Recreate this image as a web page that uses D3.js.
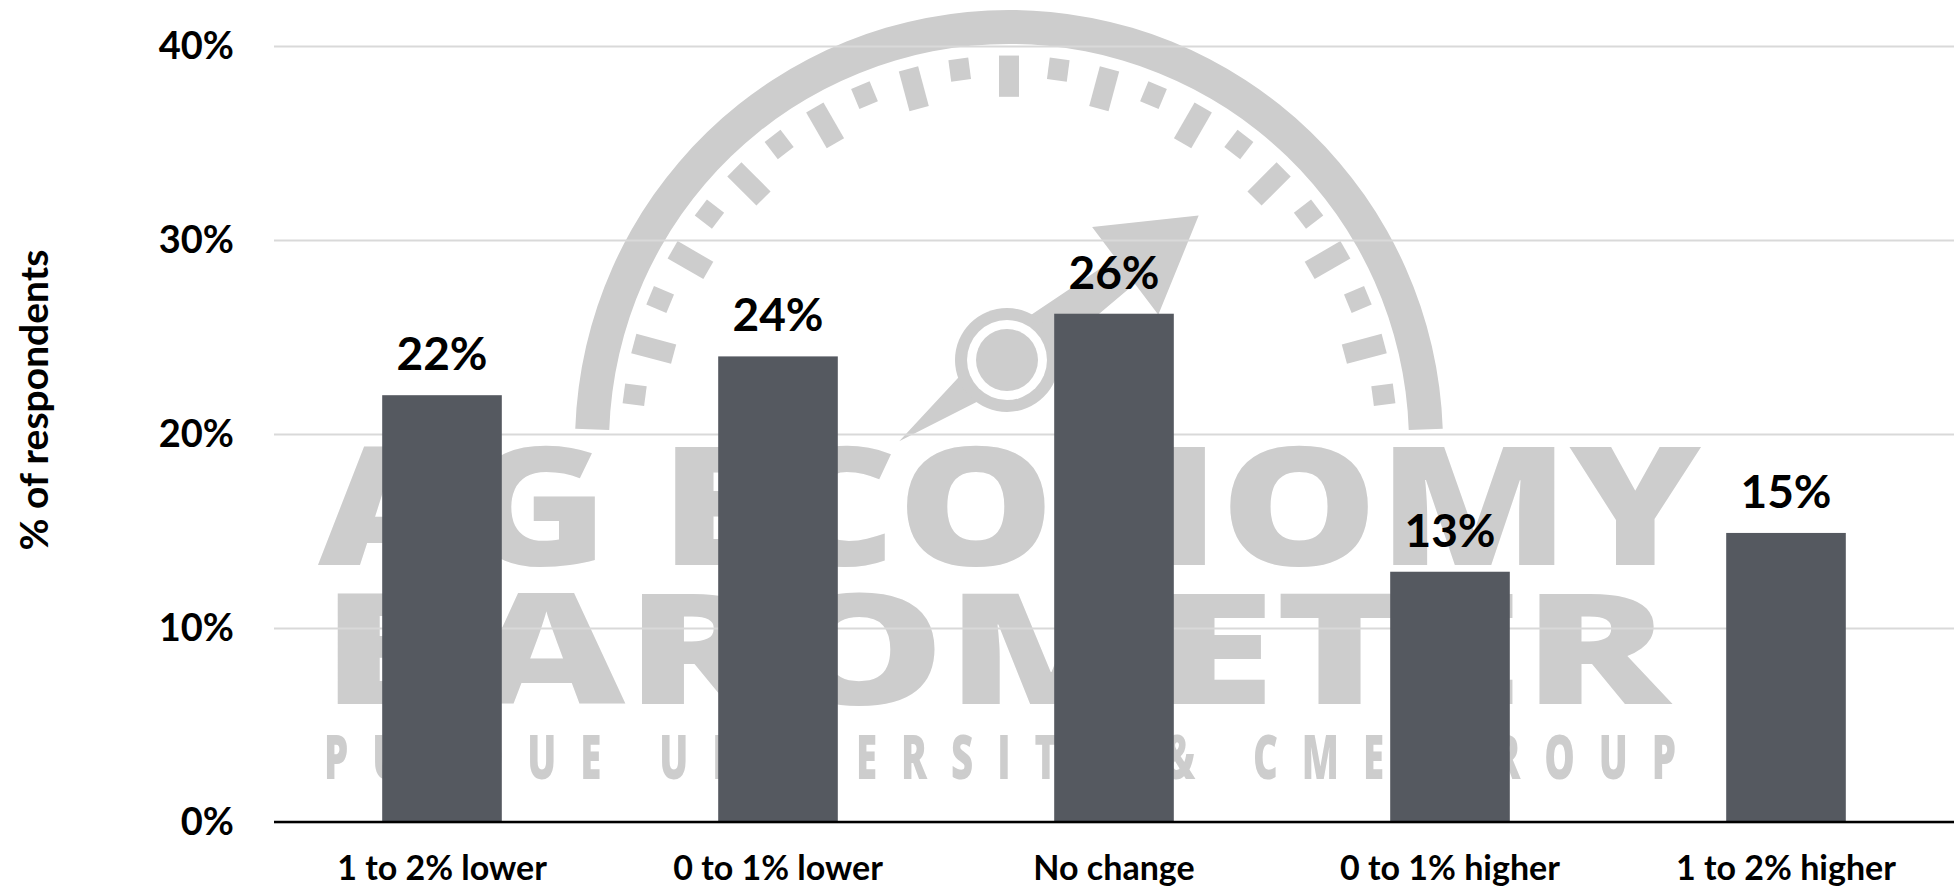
<!DOCTYPE html>
<html>
<head>
<meta charset="utf-8">
<script src="https://cdn.jsdelivr.net/npm/d3@7"></script>
<style>
  html, body { margin: 0; padding: 0; background: #ffffff; }
  svg { display: block; }
</style>
</head>
<body>
<svg id="chart" width="1954" height="889"></svg>
<script>
// ---- data ----
const categories = ["1 to 2% lower", "0 to 1% lower", "No change", "0 to 1% higher", "1 to 2% higher"];
const values = [22.0, 24.0, 26.2, 12.9, 14.9];
const yTicks = [0, 10, 20, 30, 40];
const yTickLabels = ["0%", "10%", "20%", "30%", "40%"];
const yAxisTitle = "% of respondents";
const watermarkLines = ["AG ECONOMY", "BAROMETER", "PURDUE UNIVERSITY & CME GROUP"];

// ---- layout ----
const W = 1954, H = 889;
const margin = { left: 274, right: 0, top: 46, bottom: 67 };
const plotW = W - margin.left - margin.right;
const plotH = H - margin.top - margin.bottom;
const FONT = "Lato, 'Open Sans', sans-serif";
const barColor = "#555960";
const wmColor = "#cdcdcd";

const svg = d3.select("#chart");

const x = d3.scaleBand().domain(categories).range([0, plotW])
  .paddingInner(0.644).paddingOuter(0.322);
const y = d3.scaleLinear().domain([0, 40]).range([plotH, 0]);

// ---- watermark (behind everything) ----
const wm = svg.append("g").attr("fill", wmColor);
const gc = { x: 1009, y: 444, r: 434 };
const deg = Math.PI / 180;
wm.append("path")
  .attr("transform", `translate(${gc.x},${gc.y})`)
  .attr("d", d3.arc().innerRadius(gc.r - 34).outerRadius(gc.r)
    .startAngle(-88 * deg).endAngle(88 * deg)());
const tickG = wm.append("g").attr("transform", `translate(${gc.x},${gc.y})`);
d3.range(-11, 12).forEach(i => {
  const long = i % 2 === 0;
  const outer = gc.r * 0.895, inner = long ? gc.r * 0.80 : gc.r * 0.845;
  tickG.append("rect")
    .attr("transform", `rotate(${i * 7.5})`)
    .attr("x", -10).attr("width", 20)
    .attr("y", -outer).attr("height", outer - inner);
});
// needle
const hub = { x: 1007, y: 360 };
wm.append("path")
  .attr("transform", `translate(${hub.x},${hub.y}) rotate(-37)`)
  .attr("d", d3.line()([[-135, 0], [0, -24], [148, -16], [148, -55], [240, 0], [148, 55], [148, 16], [0, 24]]) + "Z");
wm.append("circle").attr("cx", hub.x).attr("cy", hub.y).attr("r", 52);
wm.append("circle").attr("cx", hub.x).attr("cy", hub.y).attr("r", 40).attr("fill", "#ffffff");
wm.append("circle").attr("cx", hub.x).attr("cy", hub.y).attr("r", 31);

const wmText = [
  { t: watermarkLines[0], x: 318, base: 565, len: 1383, size: 165, sx: 1 },
  { t: watermarkLines[1], x: 321, base: 704, len: 1349, size: 155, sx: 1 },
  { t: watermarkLines[2], x: 324, base: 779, len: 1352, size: 62, sx: 0.62 }
];
wm.selectAll("text.wm").data(wmText).join("text")
  .attr("class", "wm")
  .attr("transform", d => `translate(${d.x},${d.base}) scale(${d.sx},1)`)
  .attr("x", 0).attr("y", 0)
  .attr("textLength", d => d.len / d.sx)
  .attr("lengthAdjust", d => d.sx === 1 ? "spacingAndGlyphs" : "spacing")
  .attr("font-family", "'Open Sans', 'DejaVu Sans', sans-serif")
  .attr("font-weight", 800)
  .attr("font-size", d => d.size)
  .text(d => d.t);

// ---- plot ----
const g = svg.append("g").attr("transform", `translate(${margin.left},${margin.top})`);

// gridlines + y tick labels
const yAxis = d3.axisLeft(y).tickValues(yTicks)
  .tickFormat((d, i) => yTickLabels[i])
  .tickSize(-plotW).tickPadding(40);
const ya = g.append("g").call(yAxis);
ya.select(".domain").remove();
ya.selectAll(".tick line").attr("stroke", "#d9d9d9").attr("stroke-width", 2);
ya.selectAll(".tick text")
  .attr("font-family", FONT).attr("font-weight", 700)
  .attr("font-size", 38).attr("fill", "#000");

// bars
g.selectAll("rect.bar").data(values).join("rect")
  .attr("class", "bar")
  .attr("x", (d, i) => x(categories[i]))
  .attr("width", x.bandwidth())
  .attr("y", d => y(d))
  .attr("height", d => y(0) - y(d))
  .attr("fill", barColor);

// baseline axis
g.append("line")
  .attr("x1", 0).attr("x2", plotW)
  .attr("y1", y(0)).attr("y2", y(0))
  .attr("stroke", "#000").attr("stroke-width", 2.5);

// data labels
g.selectAll("text.val").data(values).join("text")
  .attr("class", "val")
  .attr("x", (d, i) => x(categories[i]) + x.bandwidth() / 2)
  .attr("y", d => y(d) - 25)
  .attr("text-anchor", "middle")
  .attr("font-family", FONT).attr("font-weight", 700)
  .attr("font-size", 46).attr("fill", "#000")
  .text(d => d3.format(".0f")(d) + "%");

// category labels
g.selectAll("text.cat").data(categories).join("text")
  .attr("class", "cat")
  .attr("x", d => x(d) + x.bandwidth() / 2)
  .attr("y", plotH + 58)
  .attr("text-anchor", "middle")
  .attr("font-family", FONT).attr("font-weight", 700)
  .attr("font-size", 34).attr("fill", "#000")
  .text(d => d);

// y axis title
svg.append("text")
  .attr("transform", `translate(48, ${margin.top + plotH / 2 - 34}) rotate(-90)`)
  .attr("text-anchor", "middle")
  .attr("font-family", FONT).attr("font-weight", 700)
  .attr("font-size", 39).attr("fill", "#000")
  .text(yAxisTitle);
</script>
</body>
</html>
